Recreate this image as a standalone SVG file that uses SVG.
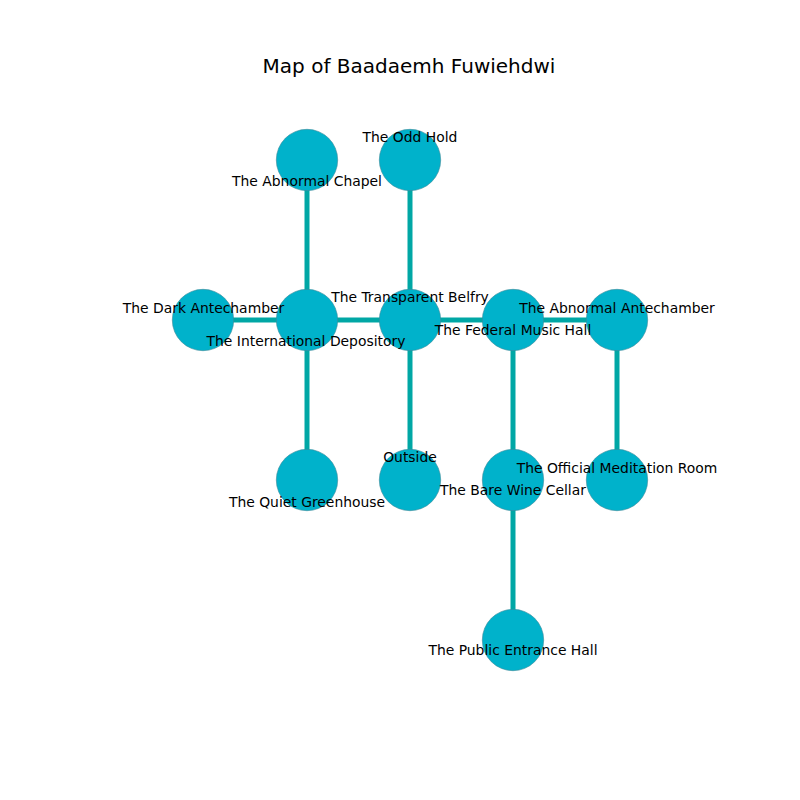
<svg xmlns="http://www.w3.org/2000/svg" width="800" height="800" viewBox="0 0 800 800">
<style>
.e{stroke:#00a7a5;stroke-width:5;fill:none}
.n circle{fill:#00b2cb;stroke:#3a8a99;stroke-width:0.6}
text{font-family:"DejaVu Sans",sans-serif;font-size:13.9px;fill:#000;text-anchor:middle;dominant-baseline:central}
.t{font-size:20px;dominant-baseline:auto}
</style>
<rect width="800" height="800" fill="#fff"/>
<text class="t" x="409" y="73">Map of Baadaemh Fuwiehdwi</text>
<g id="edges">
<line class="e" x1="307" y1="160" x2="307" y2="320"/>
<line class="e" x1="410" y1="160" x2="410" y2="320"/>
<line class="e" x1="203" y1="320" x2="307" y2="320"/>
<line class="e" x1="307" y1="320" x2="410" y2="320"/>
<line class="e" x1="410" y1="320" x2="513" y2="320"/>
<line class="e" x1="513" y1="320" x2="617" y2="320"/>
<line class="e" x1="307" y1="320" x2="307" y2="480"/>
<line class="e" x1="410" y1="320" x2="410" y2="480"/>
<line class="e" x1="513" y1="320" x2="513" y2="480"/>
<line class="e" x1="617" y1="320" x2="617" y2="480"/>
<line class="e" x1="513" y1="480" x2="513" y2="640"/>
</g>
<g id="n_chapel" class="n"><circle cx="307" cy="160" r="30.7"/></g>
<g id="n_oddhold" class="n"><circle cx="410" cy="160" r="30.7"/></g>
<g id="n_dark" class="n"><circle cx="203" cy="320" r="30.7"/></g>
<g id="n_intl" class="n"><circle cx="307" cy="320" r="30.7"/></g>
<g id="n_belfry" class="n"><circle cx="410" cy="320" r="30.7"/></g>
<g id="n_federal" class="n"><circle cx="513" cy="320" r="30.7"/></g>
<g id="n_abant" class="n"><circle cx="617" cy="320" r="30.7"/></g>
<g id="n_quiet" class="n"><circle cx="307" cy="480" r="30.7"/></g>
<g id="n_outside" class="n"><circle cx="410" cy="480" r="30.7"/></g>
<g id="n_bare" class="n"><circle cx="513" cy="480" r="30.7"/></g>
<g id="n_official" class="n"><circle cx="617" cy="480" r="30.7"/></g>
<g id="n_public" class="n"><circle cx="513" cy="640" r="30.7"/></g>
<g id="labels">
<text x="307" y="181">The Abnormal Chapel</text>
<text x="410" y="137">The Odd Hold</text>
<text x="203.5" y="308">The Dark Antechamber</text>
<text x="306" y="341">The International Depository</text>
<text x="410" y="297">The Transparent Belfry</text>
<text x="513" y="330">The Federal Music Hall</text>
<text x="617" y="308">The Abnormal Antechamber</text>
<text x="307" y="502">The Quiet Greenhouse</text>
<text x="410" y="457">Outside</text>
<text x="513" y="490">The Bare Wine Cellar</text>
<text x="617" y="468">The Official Meditation Room</text>
<text x="513" y="650">The Public Entrance Hall</text>
</g>
</svg>
